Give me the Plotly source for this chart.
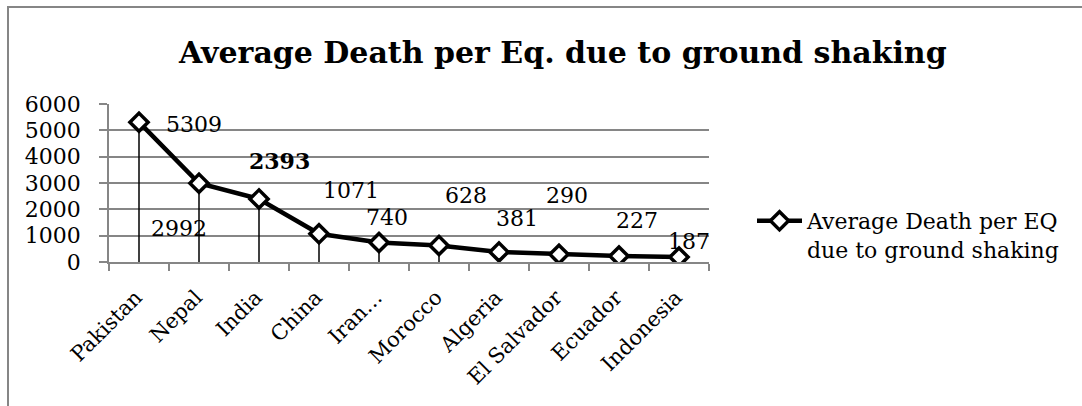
import plotly.graph_objects as go

# Earthquake death figures by country
countries = ["Pakistan", "Nepal", "India", "China", "Iran…", "Morocco",
             "Algeria", "El Salvador", "Ecuador", "Indonesia"]
avg_deaths = [5309, 2992, 2393, 1071, 740, 628, 381, 290, 227, 187]
y_ticks = [0, 1000, 2000, 3000, 4000, 5000, 6000]

# Pixel offsets of each data label relative to its point
label_dx = [55, -20, 20, 32, 8, 27, 18, 8, 18, 10]
label_dy = [-2, -45, 38, 43, 25, 50, 33, 59, 36, 16]
label_bold = [False, False, True, False, False, False, False, False, False, False]

FONT = "DejaVu Serif"
GREY = "#868686"

# plot-area geometry (px)
L, R, T, B = 109, 709, 104, 262
W_FIG, H_FIG = 1082, 406

fig = go.Figure()
fig.add_trace(go.Scatter(
    x=countries, y=avg_deaths,
    mode="lines+markers",
    name="Average Death per EQ<br>due to ground shaking",
    line=dict(color="black", width=4.5),
    marker=dict(symbol="diamond", size=14, color="white",
                line=dict(color="black", width=3.5)),
    error_y=dict(type="data", symmetric=False,
                 array=[0] * len(avg_deaths), arrayminus=avg_deaths,
                 width=0, thickness=1.5, color="black"),
))

for c, v, dx, dy, b in zip(countries, avg_deaths, label_dx, label_dy, label_bold):
    txt = f"<b>{v}</b>" if b else f"{v}"
    fig.add_annotation(x=c, y=v, xref="x", yref="y", text=txt, showarrow=False,
                       xshift=dx, yshift=dy, font=dict(family=FONT, size=22, color="black"))

def px_x(p):
    return (p - L) / (R - L)

def px_y(p):
    return (B - p) / (B - T)

# chart title
fig.add_annotation(x=px_x(562), y=px_y(52), xref="paper", yref="paper",
                   text="<b>Average Death per Eq. due to ground shaking</b>",
                   showarrow=False, xanchor="center", yanchor="middle",
                   font=dict(family=FONT, size=30, color="black"))

# outer chart frame
fig.add_shape(type="rect", xref="paper", yref="paper",
              x0=px_x(8), x1=px_x(1100), y0=px_y(420), y1=px_y(7),
              line=dict(color=GREY, width=2), fillcolor="rgba(0,0,0,0)", layer="below")

fig.update_layout(
    width=W_FIG, height=H_FIG,
    margin=dict(l=L, r=W_FIG - R, t=T, b=H_FIG - B, pad=0),
    paper_bgcolor="white", plot_bgcolor="white",
    font=dict(family=FONT, size=20, color="black"),
    showlegend=True,
    legend=dict(x=px_x(752), y=px_y(200), xanchor="left", yanchor="top",
                valign="top", font=dict(family=FONT, size=22, color="black"),
                bgcolor="rgba(0,0,0,0)", itemwidth=45),
    xaxis=dict(type="category", range=[-0.5, len(countries) - 0.5],
               tickangle=-45, tickson="boundaries",
               ticks="outside", ticklen=7, tickcolor=GREY, tickwidth=1.5,
               showline=True, linecolor=GREY, linewidth=1.5,
               ticklabelstandoff=13, ticklabelshift=-3,
               showgrid=False, tickfont=dict(family=FONT, size=21, color="black")),
    yaxis=dict(range=[0, 6000], tickvals=y_ticks, ticks="outside", ticklen=8,
               tickcolor=GREY, tickwidth=1.5, showline=True, linecolor=GREY,
               linewidth=1.5, showgrid=True, gridcolor=GREY, gridwidth=1.5,
               zeroline=False, ticklabelstandoff=14,
               tickfont=dict(family=FONT, size=22, color="black")),
)

fig.write_html("out.html")
